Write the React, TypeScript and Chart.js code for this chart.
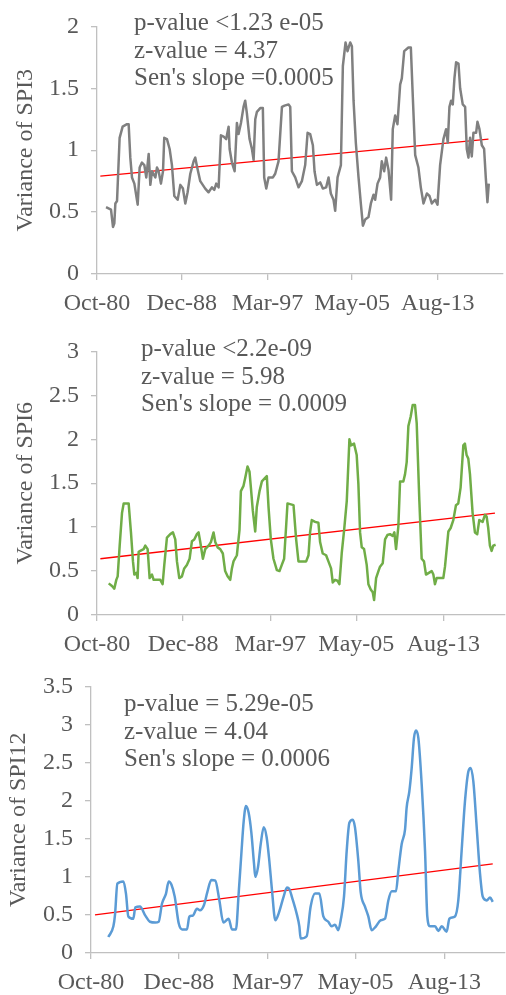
import React, { useEffect, useRef } from "react";
import { Chart, registerables } from "chart.js";

Chart.register(...registerables);

// ---- x axis ticks (decimal years) ----
const tickDates = [1980.75, 1988.917, 1997.167, 2005.333, 2013.583];
const tickLabels = ["Oct-80", "Dec-88", "Mar-97", "May-05", "Aug-13"];

// ---- SPI3 ----
const spi3Years = [
  1981.62, 1982.10, 1982.29, 1982.42, 1982.52, 1982.68, 1982.93, 1983.22, 1983.64, 1983.80,
  1983.96, 1984.12, 1984.35, 1984.67, 1984.86, 1985.08, 1985.31, 1985.50, 1985.73, 1985.89,
  1986.05, 1986.37, 1986.53, 1986.69, 1986.91, 1987.11, 1987.23, 1987.49, 1987.75, 1987.97,
  1988.20, 1988.52, 1988.78, 1989.03, 1989.26, 1989.48, 1989.74, 1990.06, 1990.22, 1990.38,
  1990.70, 1991.18, 1991.50, 1991.82, 1992.05, 1992.24, 1992.47, 1992.69, 1992.95, 1993.20,
  1993.43, 1993.53, 1993.75, 1994.01, 1994.23, 1994.39, 1994.62, 1994.87, 1995.03, 1995.19,
  1995.45, 1995.68, 1995.84, 1996.00, 1996.16, 1996.48, 1996.73, 1996.86, 1997.06, 1997.28,
  1997.70, 1997.92, 1998.24, 1998.57, 1998.82, 1999.21, 1999.37, 1999.53, 1999.85, 2000.17,
  2000.49, 2000.81, 2001.04, 2001.29, 2001.55, 2001.71, 2001.94, 2002.26, 2002.51, 2002.83,
  2003.06, 2003.28, 2003.54, 2003.70, 2003.93, 2004.25, 2004.44, 2004.70, 2004.89, 2005.15,
  2005.31, 2005.47, 2005.69, 2005.95, 2006.17, 2006.37, 2006.59, 2006.91, 2007.14, 2007.39,
  2007.55, 2007.78, 2008.03, 2008.19, 2008.42, 2008.61, 2008.84, 2009.09, 2009.25, 2009.48,
  2009.70, 2009.96, 2010.12, 2010.35, 2010.76, 2010.99, 2011.18, 2011.41, 2011.72, 2011.95,
  2012.21, 2012.53, 2012.79, 2013.01, 2013.33, 2013.56, 2013.81, 2014.13, 2014.39, 2014.55,
  2014.71, 2014.87, 2015.03, 2015.19, 2015.35, 2015.58, 2015.74, 2015.99, 2016.22, 2016.38,
  2016.54, 2016.70, 2016.86, 2017.02, 2017.28, 2017.41, 2017.60, 2017.83, 2018.05, 2018.21,
  2018.37, 2018.50,
];
const spi3Values = [
  0.54, 0.52, 0.38, 0.41, 0.57, 0.59, 1.10, 1.19, 1.21, 1.21,
  0.94, 0.78, 0.73, 0.56, 0.86, 0.90, 0.88, 0.78, 0.97, 0.72,
  0.83, 0.78, 0.86, 0.83, 0.73, 0.83, 1.10, 1.09, 1.01, 0.88,
  0.63, 0.60, 0.72, 0.69, 0.57, 0.66, 0.81, 0.91, 0.94, 0.87,
  0.75, 0.69, 0.66, 0.70, 0.68, 0.73, 0.70, 1.12, 1.11, 1.09,
  1.19, 1.01, 0.90, 0.83, 1.22, 1.13, 1.22, 1.35, 1.40, 1.30,
  1.09, 1.01, 0.92, 1.25, 1.31, 1.34, 1.34, 0.78, 0.69, 0.78,
  0.78, 0.81, 0.91, 1.35, 1.36, 1.37, 1.35, 0.83, 0.78, 0.70,
  0.75, 0.88, 1.14, 1.13, 1.04, 0.83, 0.72, 0.74, 0.69, 0.70,
  0.78, 0.65, 0.60, 0.51, 0.78, 0.88, 1.68, 1.87, 1.80, 1.87,
  1.84, 1.40, 1.06, 0.78, 0.57, 0.39, 0.44, 0.46, 0.57, 0.64,
  0.60, 0.73, 0.78, 0.91, 0.83, 0.94, 0.84, 0.60, 1.17, 1.28,
  1.21, 1.53, 1.58, 1.80, 1.83, 1.83, 1.43, 0.96, 0.86, 0.70,
  0.57, 0.65, 0.63, 0.57, 0.60, 0.56, 0.88, 1.09, 1.17, 1.06,
  1.35, 1.40, 1.37, 1.58, 1.71, 1.70, 1.50, 1.37, 1.35, 1.01,
  0.94, 1.10, 0.95, 1.14, 1.14, 1.23, 1.17, 1.04, 1.01, 0.78,
  0.58, 0.73,
];
const spi3TrendYears = [1981.07, 2018.47];
const spi3TrendValues = [0.79, 1.09];
const spi3Notes = ["p-value <1.23 e-05", "z-value = 4.37", "Sen's slope =0.0005"];

// ---- SPI6 ----
const spi6Years = [
  1981.86, 1982.17, 1982.39, 1982.58, 1982.71, 1982.90, 1983.12, 1983.28, 1983.75, 1983.97,
  1984.16, 1984.29, 1984.48, 1984.60, 1984.70, 1984.85, 1985.17, 1985.33, 1985.55, 1985.74,
  1985.96, 1986.12, 1986.75, 1986.97, 1987.13, 1987.38, 1987.70, 1987.95, 1988.17, 1988.33,
  1988.55, 1988.80, 1989.02, 1989.27, 1989.53, 1989.75, 1989.97, 1990.22, 1990.38, 1990.54,
  1990.79, 1991.01, 1991.33, 1991.55, 1991.80, 1991.96, 1992.18, 1992.43, 1992.68, 1992.90,
  1993.13, 1993.38, 1993.54, 1993.69, 1994.01, 1994.26, 1994.39, 1994.64, 1994.80, 1995.02,
  1995.21, 1995.34, 1995.52, 1995.75, 1995.90, 1996.16, 1996.38, 1996.69, 1996.85, 1997.01,
  1997.23, 1997.48, 1997.80, 1998.05, 1998.27, 1998.49, 1998.68, 1998.81, 1999.38, 1999.63,
  1999.85, 2000.58, 2000.80, 2000.95, 2001.11, 2001.43, 2001.74, 2001.90, 2002.15, 2002.47,
  2002.69, 2002.94, 2003.10, 2003.32, 2003.54, 2003.73, 2003.95, 2004.18, 2004.43, 2004.68,
  2004.84, 2005.12, 2005.37, 2005.53, 2005.69, 2005.85, 2006.07, 2006.32, 2006.48, 2006.70,
  2006.89, 2007.02, 2007.21, 2007.43, 2007.58, 2007.84, 2008.06, 2008.28, 2008.53, 2008.78,
  2008.94, 2009.10, 2009.32, 2009.48, 2009.79, 2009.95, 2010.11, 2010.27, 2010.49, 2010.68,
  2010.90, 2011.06, 2011.31, 2011.53, 2011.75, 2011.94, 2012.48, 2012.64, 2012.79, 2012.95,
  2013.58, 2013.74, 2014.06, 2014.28, 2014.53, 2014.78, 2015.00, 2015.22, 2015.48, 2015.63,
  2015.79, 2015.95, 2016.11, 2016.36, 2016.58, 2016.80, 2016.99, 2017.31, 2017.53, 2017.69,
  2017.84, 2018.00, 2018.16, 2018.32, 2018.54,
];
const spi6Values = [
  0.36, 0.33, 0.30, 0.40, 0.44, 0.79, 1.16, 1.27, 1.27, 0.94,
  0.61, 0.46, 0.48, 0.42, 0.72, 0.73, 0.75, 0.79, 0.75, 0.42,
  0.46, 0.40, 0.40, 0.35, 0.57, 0.88, 0.92, 0.94, 0.86, 0.61,
  0.42, 0.44, 0.53, 0.57, 0.64, 0.84, 0.86, 0.92, 0.94, 0.83,
  0.64, 0.75, 0.79, 0.83, 0.94, 0.83, 0.77, 0.75, 0.70, 0.50,
  0.44, 0.40, 0.53, 0.61, 0.68, 0.97, 1.41, 1.47, 1.56, 1.69,
  1.63, 1.45, 1.19, 0.95, 1.23, 1.41, 1.52, 1.56, 1.58, 1.23,
  0.86, 0.64, 0.51, 0.50, 0.57, 0.64, 1.01, 1.27, 1.25, 0.86,
  0.61, 0.61, 0.68, 0.94, 1.08, 1.06, 1.05, 0.83, 0.70, 0.68,
  0.61, 0.53, 0.37, 0.40, 0.39, 0.35, 0.70, 0.97, 1.30, 2.00,
  1.93, 1.95, 1.82, 1.49, 0.94, 0.77, 0.75, 0.57, 0.35, 0.29,
  0.26, 0.17, 0.42, 0.50, 0.55, 0.59, 0.86, 0.91, 0.92, 0.90,
  0.94, 0.75, 1.01, 1.52, 1.52, 1.60, 1.74, 2.15, 2.26, 2.39,
  2.39, 2.18, 1.30, 0.64, 0.61, 0.46, 0.50, 0.46, 0.35, 0.42,
  0.42, 0.55, 0.95, 0.99, 1.08, 1.25, 1.27, 1.45, 1.93, 1.95,
  1.82, 1.78, 1.60, 1.16, 0.94, 0.92, 1.08, 1.06, 1.14, 1.12,
  0.99, 0.79, 0.73, 0.79, 0.80,
];
const spi6TrendYears = [1981.07, 2018.48];
const spi6TrendValues = [0.64, 1.16];
const spi6Notes = ["p-value <2.2e-09", "z-value = 5.98", "Sen's slope = 0.0009"];

// ---- SPI12 ----
const spi12Years = [
  1982.36, 1982.83, 1982.98, 1983.20, 1983.76, 1984.00, 1984.22, 1984.68, 1984.87, 1985.30,
  1985.80, 1986.23, 1986.73, 1987.04, 1987.35, 1987.72, 1987.97, 1988.22, 1988.53, 1988.90,
  1989.21, 1989.67, 1989.89, 1990.20, 1990.60, 1990.88, 1991.25, 1991.56, 1991.93, 1992.30,
  1992.68, 1993.05, 1993.54, 1993.85, 1994.22, 1994.47, 1994.72, 1994.94, 1995.15, 1995.40,
  1995.65, 1995.90, 1996.02, 1996.27, 1996.52, 1996.80, 1997.07, 1997.32, 1997.57, 1997.88,
  1998.19, 1998.65, 1998.96, 1999.18, 1999.43, 1999.89, 2000.11, 2000.23, 2000.79, 2001.16,
  2001.57, 2001.97, 2002.34, 2002.80, 2003.11, 2003.42, 2003.73, 2003.95, 2004.26, 2004.51,
  2004.76, 2005.07, 2005.28, 2005.59, 2005.81, 2006.21, 2006.52, 2006.83, 2007.23, 2007.67,
  2008.07, 2008.38, 2008.69, 2009.09, 2009.31, 2009.62, 2009.93, 2010.08, 2010.33, 2010.55,
  2010.76, 2010.95, 2011.17, 2011.48, 2011.79, 2012.00, 2012.25, 2012.72, 2013.03, 2013.34,
  2013.80, 2014.05, 2014.57, 2014.88, 2015.19, 2015.50, 2015.81, 2016.03, 2016.28, 2016.59,
  2016.90, 2017.15, 2017.52, 2017.83, 2018.08,
];
const spi12Values = [
  0.21, 0.35, 0.50, 0.91, 0.94, 0.78, 0.48, 0.45, 0.60, 0.61,
  0.49, 0.41, 0.40, 0.41, 0.65, 0.78, 0.94, 0.90, 0.74, 0.39,
  0.31, 0.31, 0.48, 0.49, 0.58, 0.56, 0.63, 0.80, 0.96, 0.95,
  0.69, 0.40, 0.45, 0.31, 0.31, 0.78, 1.30, 1.73, 1.93, 1.84,
  1.58, 1.17, 1.00, 1.13, 1.43, 1.65, 1.52, 1.21, 0.82, 0.43,
  0.52, 0.74, 0.86, 0.84, 0.73, 0.50, 0.35, 0.19, 0.22, 0.61,
  0.78, 0.78, 0.48, 0.41, 0.35, 0.37, 0.30, 0.43, 0.74, 1.34,
  1.71, 1.75, 1.65, 1.21, 0.80, 0.61, 0.48, 0.30, 0.35, 0.43,
  0.45, 0.69, 0.81, 0.81, 1.08, 1.43, 1.62, 1.91, 2.12, 2.43,
  2.82, 2.92, 2.82, 2.21, 1.34, 0.48, 0.35, 0.35, 0.29, 0.35,
  0.28, 0.45, 0.48, 0.69, 1.34, 1.99, 2.38, 2.43, 2.25, 1.65,
  1.04, 0.74, 0.69, 0.73, 0.67,
];
const spi12TrendYears = [1981.12, 2018.08];
const spi12TrendValues = [0.50, 1.17];
const spi12Notes = ["p-value = 5.29e-05", "z-value = 4.04", "Sen's slope = 0.0006"];

const FONT = "'Liberation Serif', 'Times New Roman', serif";
const TEXT = "#595959";
const AXIS = "#c0c0c0";

const notesPlugin = {
  id: "notes",
  afterDatasetsDraw(chart: any, _args: any, opts: any) {
    const ctx = chart.ctx;
    ctx.save();
    ctx.font = `${opts.size}px ${FONT}`;
    ctx.fillStyle = TEXT;
    ctx.textBaseline = "alphabetic";
    ctx.textAlign = "left";
    opts.lines.forEach((t: string, i: number) => ctx.fillText(t, opts.x, opts.y + i * opts.gap));
    ctx.restore();
  },
};

type Panel = {
  years: number[];
  values: number[];
  trendYears: number[];
  trendValues: number[];
  notes: string[];
  title: string;
  color: string;
  smooth: boolean;
  top: number;
  height: number;
  yWidth: number;
  padTop: number;
  padRight: number;
  xHeight: number;
  yMax: number;
  xMax: number;
  titlePad: number;
  noteX: number;
  noteY: number;
};

const panels: Panel[] = [
  {
    years: spi3Years, values: spi3Values, trendYears: spi3TrendYears, trendValues: spi3TrendValues,
    notes: spi3Notes, title: "Variance of SPI3", color: "#808080", smooth: false,
    top: 0, height: 325, yWidth: 97, padTop: 16, padRight: 3, xHeight: 51, yMax: 2, xMax: 2019.87,
    titlePad: 11.6, noteX: 134, noteY: 30,
  },
  {
    years: spi6Years, values: spi6Values, trendYears: spi6TrendYears, trendValues: spi6TrendValues,
    notes: spi6Notes, title: "Variance of SPI6", color: "#70ad47", smooth: false,
    top: 325, height: 335, yWidth: 97, padTop: 18, padRight: 1, xHeight: 45, yMax: 3, xMax: 2019.43,
    titlePad: 11.6, noteX: 141, noteY: 31,
  },
  {
    years: spi12Years, values: spi12Values, trendYears: spi12TrendYears, trendValues: spi12TrendValues,
    notes: spi12Notes, title: "Variance of SPI12", color: "#5b9bd5", smooth: true,
    top: 660, height: 335, yWidth: 91, padTop: 24, padRight: 1, xHeight: 42, yMax: 3.5, xMax: 2019.22,
    titlePad: 4.8, noteX: 124, noteY: 51,
  },
];

function PanelChart({ p }: { p: Panel }) {
  const ref = useRef<HTMLCanvasElement | null>(null);
  useEffect(() => {
    if (!ref.current) return;
    const chart = new Chart(ref.current, {
      type: "line",
      data: {
        datasets: [
          {
            data: p.years.map((x, i) => ({ x, y: p.values[i] })),
            borderColor: p.color,
            borderWidth: 2.5,
            pointRadius: 0,
            tension: p.smooth ? 0.4 : 0,
            cubicInterpolationMode: p.smooth ? "monotone" : "default",
            borderJoinStyle: "round",
          },
          {
            data: p.trendYears.map((x, i) => ({ x, y: p.trendValues[i] })),
            borderColor: "#ff0000",
            borderWidth: 1.3,
            pointRadius: 0,
          },
        ],
      },
      options: {
        responsive: false,
        animation: false,
        events: [],
        layout: { padding: { top: p.padTop, right: p.padRight, left: 0, bottom: 0 } },
        plugins: {
          legend: { display: false },
          tooltip: { enabled: false },
          notes: { lines: p.notes, x: p.noteX, y: p.noteY, gap: 27.6, size: 25 },
        } as any,
        scales: {
          x: {
            type: "linear",
            min: 1980.75,
            max: p.xMax,
            afterBuildTicks: (s: any) => {
              s.ticks = tickDates.map((v) => ({ value: v }));
            },
            afterFit: (s: any) => {
              s.height = p.xHeight;
            },
            ticks: {
              callback: (_v: any, i: number) => tickLabels[i],
              font: { family: FONT, size: 24 },
              color: TEXT,
              padding: 9,
              maxRotation: 0,
              autoSkip: false,
            },
            grid: { drawOnChartArea: false, drawTicks: true, tickLength: 6, color: AXIS, lineWidth: 1.3 },
            border: { display: true, color: AXIS, width: 1.3 },
          },
          y: {
            min: 0,
            max: p.yMax,
            afterFit: (s: any) => {
              s.width = p.yWidth;
            },
            ticks: {
              stepSize: 0.5,
              callback: (v: any) => String(Number(v)),
              font: { family: FONT, size: 24 },
              color: TEXT,
              padding: 12,
            },
            grid: { drawOnChartArea: false, drawTicks: true, tickLength: 6, color: AXIS, lineWidth: 1.3 },
            border: { display: true, color: AXIS, width: 1.3 },
            title: {
              display: true,
              text: p.title,
              color: TEXT,
              font: { family: FONT, size: 24 },
              padding: { top: p.titlePad, bottom: 0 },
            },
          },
        },
      } as any,
      plugins: [notesPlugin as any],
    });
    return () => chart.destroy();
  }, [p]);
  return (
    <canvas
      ref={ref}
      width={506}
      height={p.height}
      style={{ position: "absolute", left: 0, top: p.top, display: "block" }}
    />
  );
}

export default function App() {
  return (
    <div style={{ position: "absolute", left: 0, top: 0, width: 506, height: 995, background: "#fff" }}>
      {panels.map((p, i) => (
        <PanelChart key={i} p={p} />
      ))}
    </div>
  );
}
